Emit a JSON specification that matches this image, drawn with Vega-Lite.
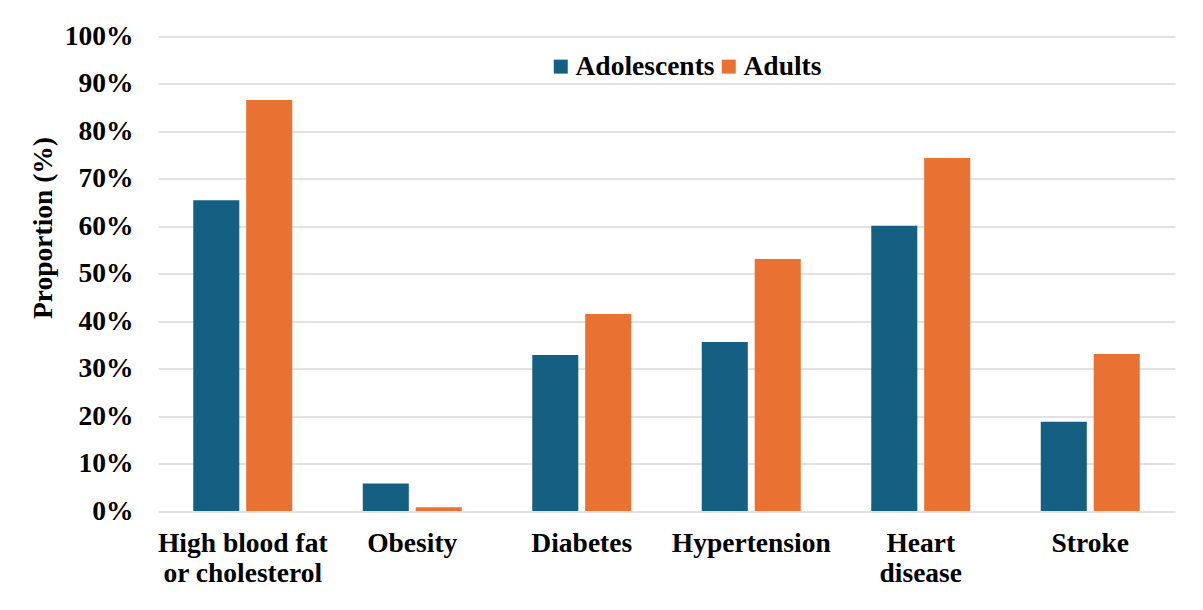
{
  "$schema": "https://vega.github.io/schema/vega-lite/v6.json",
  "width": 1017,
  "height": 474.5,
  "autosize": {"type": "none"},
  "padding": {"left": 158, "top": 36.5, "right": 28, "bottom": 99},
  "background": "white",
  "data": {
    "values": [
      {"condition": "High blood fat|or cholesterol", "group": "Adolescents", "proportion": 65.5},
      {"condition": "High blood fat|or cholesterol", "group": "Adults", "proportion": 86.6},
      {"condition": "Obesity", "group": "Adolescents", "proportion": 5.8},
      {"condition": "Obesity", "group": "Adults", "proportion": 0.8},
      {"condition": "Diabetes", "group": "Adolescents", "proportion": 32.9},
      {"condition": "Diabetes", "group": "Adults", "proportion": 41.5},
      {"condition": "Hypertension", "group": "Adolescents", "proportion": 35.6},
      {"condition": "Hypertension", "group": "Adults", "proportion": 53.1},
      {"condition": "Heart|disease", "group": "Adolescents", "proportion": 60.1},
      {"condition": "Heart|disease", "group": "Adults", "proportion": 74.4},
      {"condition": "Stroke", "group": "Adolescents", "proportion": 18.8},
      {"condition": "Stroke", "group": "Adults", "proportion": 33.1}
    ]
  },
  "mark": {"type": "bar"},
  "encoding": {
    "x": {
      "field": "condition",
      "type": "nominal",
      "sort": null,
      "scale": {"paddingInner": 0.416, "paddingOuter": 0.208},
      "axis": {
        "title": null,
        "labelAngle": 0,
        "labelExpr": "split(datum.label, '|')",
        "labelFont": "Liberation Serif",
        "labelFontWeight": "bold",
        "labelFontSize": 27.5,
        "labelColor": "black",
        "labelLineHeight": 30,
        "labelPadding": 18,
        "labelBaseline": "top",
        "ticks": false,
        "domain": false
      }
    },
    "xOffset": {
      "field": "group",
      "type": "nominal",
      "scale": {"paddingInner": 0.13, "paddingOuter": 0}
    },
    "y": {
      "field": "proportion",
      "type": "quantitative",
      "scale": {"domain": [0, 100], "nice": false},
      "axis": {
        "title": "Proportion (%)",
        "values": [0, 10, 20, 30, 40, 50, 60, 70, 80, 90, 100],
        "labelExpr": "datum.value + '%'",
        "labelFont": "Liberation Serif",
        "labelFontWeight": "bold",
        "labelFontSize": 27.5,
        "labelColor": "black",
        "labelPadding": 25,
        "ticks": false,
        "domain": false,
        "grid": true,
        "gridColor": "#d9d9d9",
        "gridWidth": 1.5,
        "titleFont": "Liberation Serif",
        "titleFontWeight": "bold",
        "titleFontSize": 27.5,
        "titleColor": "black",
        "titleAngle": 270,
        "titleX": -115,
        "titleY": 191,
        "titleAlign": "center",
        "titleBaseline": "middle"
      }
    },
    "color": {
      "field": "group",
      "type": "nominal",
      "scale": {"domain": ["Adolescents", "Adults"], "range": ["#156082", "#E97132"]},
      "legend": {
        "title": null,
        "orient": "none",
        "direction": "horizontal",
        "legendX": 389,
        "legendY": 16,
        "symbolType": "square",
        "symbolSize": 196,
        "symbolStrokeWidth": 0,
        "symbolOpacity": 1,
        "labelFont": "Liberation Serif",
        "labelFontWeight": "bold",
        "labelFontSize": 27.5,
        "labelColor": "black",
        "labelOffset": 1,
        "columnPadding": 0,
        "padding": 0
      }
    }
  },
  "config": {
    "font": "Liberation Serif",
    "view": {"stroke": null},
    "legend": {"labelFont": "Liberation Serif", "labelFontWeight": "bold"}
  }
}
